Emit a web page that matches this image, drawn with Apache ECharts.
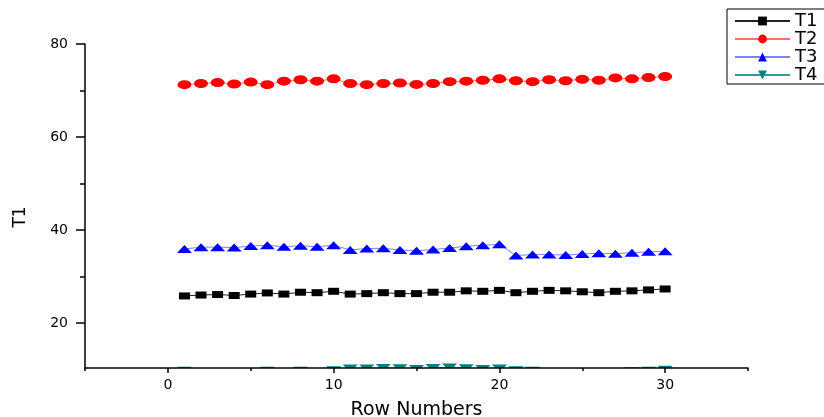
<!DOCTYPE html>
<html>
<head>
<meta charset="utf-8">
<script src="https://cdn.jsdelivr.net/npm/echarts@6/dist/echarts.min.js"></script>
<style>
html,body{margin:0;padding:0;background:#fff;}
#chart{width:824px;height:417px;}
</style>
</head>
<body>
<div id="chart"></div>
<script>
const rowNumbers = [1,2,3,4,5,6,7,8,9,10,11,12,13,14,15,16,17,18,19,20,21,22,23,24,25,26,27,28,29,30];
const t1 = [25.8,26.0,26.1,25.9,26.2,26.45,26.2,26.6,26.5,26.8,26.2,26.3,26.5,26.3,26.3,26.6,26.6,26.9,26.8,27.0,26.5,26.8,27.0,26.9,26.7,26.5,26.8,26.9,27.1,27.3];
const t2 = [71.25,71.5,71.7,71.4,71.8,71.25,72.0,72.3,72.0,72.5,71.5,71.25,71.5,71.6,71.3,71.5,71.9,72.0,72.2,72.5,72.1,71.9,72.3,72.1,72.4,72.2,72.7,72.5,72.8,73.0];
const t3 = [35.9,36.3,36.3,36.2,36.55,36.7,36.4,36.6,36.4,36.7,35.7,36.0,36.05,35.7,35.5,35.8,36.1,36.5,36.7,36.9,34.5,34.7,34.7,34.6,34.8,35.0,34.9,35.1,35.3,35.4];
const t4 = [9.7,9.4,9.4,9.4,9.4,9.7,9.4,9.7,9.4,9.8,10.2,10.2,10.3,10.25,10.1,10.3,10.4,10.25,10.1,10.2,9.8,9.7,9.4,9.4,9.4,9.4,9.4,9.6,9.7,9.9];
const seriesNames = ['T1','T2','T3','T4'];
const xTicks = [0,10,20,30];
const xMinorTicks = [-5,5,15,25,35];
const yTicks = [20,40,60,80];
const yMinorTicks = [30,50,70];

const W = 824, H = 417;
const grid = {left:85, right:76, top:44, bottom:49};
const pair = arr => rowNumbers.map((x,i)=>[x,arr[i]]);
const axisColor = '#000';
const font = 'DejaVu Sans';

const chart = echarts.init(document.getElementById('chart'), null, {renderer:'canvas'});
chart.setOption({
  animation:false,
  backgroundColor:'#fff',
  grid:{left:grid.left, right:grid.right, top:grid.top, bottom:grid.bottom, containLabel:false, outerBoundsMode:'none'},
  legend:{
    data:seriesNames, orient:'vertical', left:727, top:9,
    itemWidth:55, itemHeight:11, itemGap:0,
    borderColor:'#000', borderWidth:1, padding:[3,40,0,7],
    backgroundColor:'#fff',
    textStyle:{fontSize:18, color:'#000', fontFamily:font}
  },
  xAxis:[{
    type:'value', min:-5, max:35, position:'bottom', z:20,
    axisLine:{show:true, onZero:false, lineStyle:{color:axisColor, width:1.5}},
    axisTick:{show:true, customValues:xTicks, length:5, lineStyle:{color:axisColor, width:1.5}},
    axisLabel:{show:true, customValues:xTicks, margin:10, fontSize:14, color:'#000', fontFamily:font},
    splitLine:{show:false},
    name:'Row Numbers', nameLocation:'middle', nameGap:33,
    nameTextStyle:{fontSize:19, color:'#000', fontFamily:font}
  },{
    type:'value', min:-5, max:35, position:'bottom', z:20,
    axisLine:{show:false, onZero:false},
    axisTick:{show:true, customValues:xMinorTicks, length:3, lineStyle:{color:axisColor, width:1.5}},
    axisLabel:{show:false}, splitLine:{show:false}
  }],
  yAxis:[{
    type:'value', min:10.3, max:80, position:'left', z:20,
    axisLine:{show:true, onZero:false, lineStyle:{color:axisColor, width:1.5}},
    axisTick:{show:true, customValues:yTicks, length:9, lineStyle:{color:axisColor, width:1.5}},
    axisLabel:{show:true, customValues:yTicks, margin:17, fontSize:14, color:'#000', fontFamily:font},
    splitLine:{show:false},
    name:'T1', nameLocation:'middle', nameGap:56, nameRotate:90,
    nameTextStyle:{fontSize:17, color:'#000', fontFamily:font, padding:[0,22,0,0]}
  },{
    type:'value', min:10.3, max:80, position:'left', z:20,
    axisLine:{show:false, onZero:false},
    axisTick:{show:true, customValues:yMinorTicks, length:5, lineStyle:{color:axisColor, width:1.5}},
    axisLabel:{show:false}, splitLine:{show:false}
  }],
  series:[
    {name:'T1', type:'line', data:pair(t1), symbol:'rect', symbolSize:[11,7],
     itemStyle:{color:'#000'}, lineStyle:{color:'#222', width:1}, z:3},
    {name:'T2', type:'line', data:pair(t2), symbol:'circle', symbolSize:[14,9],
     itemStyle:{color:'#ff0000'}, lineStyle:{color:'#ff7070', width:1}, z:3},
    {name:'T3', type:'line', data:pair(t3), symbol:'triangle', symbolSize:[15,8],
     itemStyle:{color:'#0000ff'}, lineStyle:{color:'#8080ff', width:1}, z:3},
    {name:'T4', type:'line', data:pair(t4), symbol:'triangle', symbolRotate:180, symbolSize:[15,8],
     itemStyle:{color:'#008080'}, lineStyle:{color:'#3a9a9a', width:1}, clip:false, z:3},
    // white mask below the x axis so that T4 marks are cut at the axis, as in the reference
    {type:'custom', silent:true, z:10, clip:false, legendHoverLink:false,
     data:[[xMinorTicks[0], 10.3]],
     renderItem:function(params, api){
       const p0 = api.coord([-5, 10.3]);
       const p1 = api.coord([35, 10.3]);
       return {type:'rect', shape:{x:p0[0], y:p0[1], width:p1[0]-p0[0], height:14}, style:{fill:'#fff'}};
     }}
  ]
});
</script>
</body>
</html>
